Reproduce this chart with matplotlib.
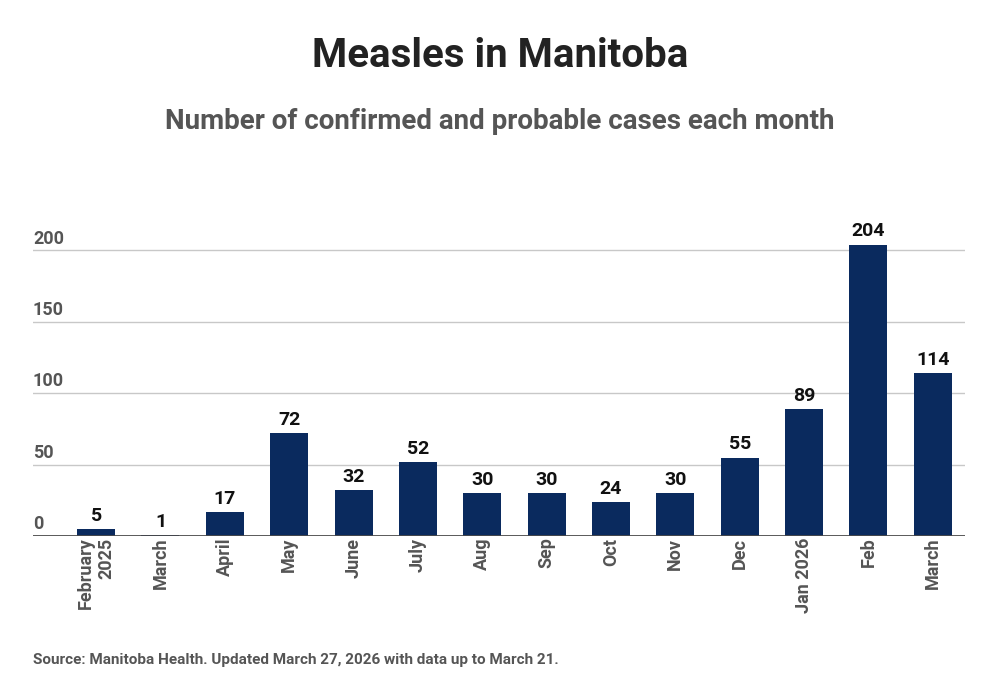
import matplotlib
matplotlib.use('Agg')
import matplotlib.pyplot as plt
import matplotlib.transforms as mtransforms

meses = ['February\n2025', 'March', 'April', 'May', 'June', 'July', 'Aug', 'Sep',
         'Oct', 'Nov', 'Dec', 'Jan 2026', 'Feb', 'March']
casos = [5, 1, 17, 72, 32, 52, 30, 30, 24, 30, 55, 89, 204, 114]
ticks_y = [0, 50, 100, 150, 200]

plt.rcParams['font.family'] = ['Roboto', 'DejaVu Sans']

fig = plt.figure(figsize=(10, 7), dpi=100)
ax = fig.add_axes([0.033, 0.234, 0.932, 0.439])

posiciones = list(range(len(casos)))
barras = ax.bar(posiciones, casos, width=0.59, color='#0a2a5e', zorder=3)

# etiquetas de valor sobre cada barra
for x, v in zip(posiciones, casos):
    ax.annotate(str(v), (x, v), xytext=(0, 3), textcoords='offset points',
                ha='center', va='bottom', fontsize=14, fontweight='bold', color='#111111')

ax.set_xlim(-0.98, 13.5)
ax.set_ylim(0, 215)

# lineas de la grilla
for t in ticks_y[1:]:
    ax.axhline(t, color='#c8c8c8', linewidth=1, zorder=1)
ax.axhline(0, color='#4a4a4a', linewidth=2, zorder=4)

for s in ax.spines.values():
    s.set_visible(False)
ax.set_yticks([])
ax.set_xticks(posiciones)
ax.set_xticklabels(meses, rotation=90, ha='center', va='top', multialignment='right',
                   fontsize=13, fontweight='bold', color='#555555')
ax.tick_params(axis='x', length=0, pad=1)

# etiquetas del eje y encima de la grilla
trans = mtransforms.blended_transform_factory(ax.transAxes, ax.transData)
for t in ticks_y:
    ax.annotate(str(t), (0, t), xycoords=trans, xytext=(0, 2), textcoords='offset points',
                ha='left', va='bottom', fontsize=13, fontweight='bold', color='#555555')

fig.text(0.5, 0.92, 'Measles in Manitoba', ha='center', va='center',
         fontsize=29, fontweight='bold', color='#222222')
fig.text(0.5, 0.826, 'Number of confirmed and probable cases each month', ha='center', va='center',
         fontsize=20, fontweight='bold', color='#555555')
fig.text(0.033, 0.057, 'Source: Manitoba Health. Updated March 27, 2026 with data up to March 21.',
         ha='left', va='center', fontsize=11, fontweight='bold', color='#555555')

fig.savefig('out.png', dpi=100)
